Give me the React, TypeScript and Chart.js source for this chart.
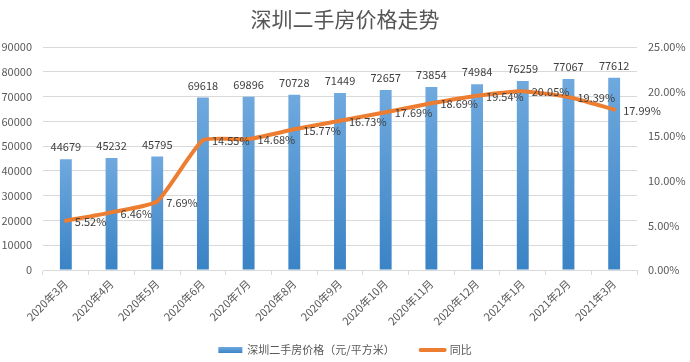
import React, { useEffect, useRef } from "react";
import { Chart, registerables } from "chart.js";

Chart.register(...registerables);

const title = "深圳二手房价格走势";
const categories = [
  "2020年3月", "2020年4月", "2020年5月", "2020年6月", "2020年7月", "2020年8月",
  "2020年9月", "2020年10月", "2020年11月", "2020年12月", "2021年1月", "2021年2月", "2021年3月",
];
const priceLabel = "深圳二手房价格（元/平方米）";
const prices = [44679, 45232, 45795, 69618, 69896, 70728, 71449, 72657, 73854, 74984, 76259, 77067, 77612];
const yoyLabel = "同比";
const yoy = [5.52, 6.46, 7.69, 14.55, 14.68, 15.77, 16.73, 17.69, 18.69, 19.54, 20.05, 19.39, 17.99];
const leftMax = 90000;
const leftStep = 10000;
const rightMax = 25;
const rightStep = 5;

const FONT = '"Noto Sans CJK SC", "Noto Sans", sans-serif';
const TICK_COLOR = "#595959";
const LABEL_COLOR = "#404040";
const BAR_TOP = "#6fa9de";
const BAR_BOTTOM = "#3a83c5";
const LINE_COLOR = "#ed7d31";

const overlayPlugin = {
  id: "overlay",
  afterDatasetsDraw(chart: any) {
    const ctx = chart.ctx;
    ctx.save();
    ctx.font = `11px ${FONT}`;
    ctx.fillStyle = LABEL_COLOR;
    const barMeta = chart.getDatasetMeta(1);
    ctx.textAlign = "center";
    ctx.textBaseline = "middle";
    barMeta.data.forEach((el: any, i: number) => {
      ctx.fillText(String(prices[i]), el.x, el.y - 12);
    });
    const lineMeta = chart.getDatasetMeta(0);
    ctx.textAlign = "left";
    lineMeta.data.forEach((el: any, i: number) => {
      ctx.fillText(yoy[i].toFixed(2) + "%", el.x + 9, el.y + 1);
    });
    ctx.restore();
  },
  afterDraw(chart: any) {
    const ctx = chart.ctx;
    const W = chart.width;
    ctx.save();
    ctx.font = `21px ${FONT}`;
    ctx.fillStyle = "#555555";
    ctx.textAlign = "center";
    ctx.textBaseline = "middle";
    ctx.fillText(title, W / 2, 19);
    ctx.font = `11px ${FONT}`;
    ctx.textAlign = "left";
    const w1 = ctx.measureText(priceLabel).width;
    const w2 = ctx.measureText(yoyLabel).width;
    const total = 24 + 5 + w1 + 24 + 28 + 3 + w2;
    let x = W / 2 - total / 2;
    const y = 350;
    const g = ctx.createLinearGradient(0, y - 3, 0, y + 3);
    g.addColorStop(0, BAR_TOP);
    g.addColorStop(1, BAR_BOTTOM);
    ctx.fillStyle = g;
    ctx.fillRect(x, y - 3, 24, 6);
    x += 24 + 5;
    ctx.fillStyle = TICK_COLOR;
    ctx.fillText(priceLabel, x, y);
    x += w1 + 24;
    ctx.strokeStyle = LINE_COLOR;
    ctx.lineWidth = 4;
    ctx.lineCap = "round";
    ctx.beginPath();
    ctx.moveTo(x + 2, y);
    ctx.lineTo(x + 26, y);
    ctx.stroke();
    x += 28 + 3;
    ctx.fillText(yoyLabel, x, y);
    ctx.restore();
  },
};

export default function App() {
  const canvasRef = useRef<HTMLCanvasElement | null>(null);

  useEffect(() => {
    document.body.style.margin = "0";
    const canvas = canvasRef.current;
    if (!canvas) return;
    const chart = new Chart(canvas, {
      type: "bar",
      data: {
        labels: categories,
        datasets: [
          {
            type: "line",
            label: yoyLabel,
            data: yoy,
            yAxisID: "y1",
            borderColor: LINE_COLOR,
            backgroundColor: LINE_COLOR,
            borderWidth: 4,
            pointRadius: 0,
            tension: 0.15,
            borderCapStyle: "round",
            borderJoinStyle: "round",
            order: 0,
          } as any,
          {
            type: "bar",
            label: priceLabel,
            data: prices,
            yAxisID: "y",
            order: 1,
            barPercentage: 0.26,
            categoryPercentage: 1,
            backgroundColor: (c: any) => {
              const ch = c.chart;
              const area = ch.chartArea;
              if (!area || c.type !== "data") return BAR_BOTTOM;
              const ys = ch.scales.y;
              const top = ys.getPixelForValue(prices[c.dataIndex]);
              const bottom = ys.getPixelForValue(0);
              const g = ch.ctx.createLinearGradient(0, top, 0, bottom);
              g.addColorStop(0, BAR_TOP);
              g.addColorStop(1, BAR_BOTTOM);
              return g;
            },
          } as any,
        ],
      },
      options: {
        responsive: false,
        animation: false,
        layout: { padding: { top: 47, bottom: 28, left: 0, right: 0 } },
        plugins: {
          legend: { display: false },
          title: { display: false },
          tooltip: { enabled: false },
        },
        scales: {
          x: {
            grid: {
              drawOnChartArea: false,
              drawTicks: true,
              tickLength: 5,
              color: "#d9d9d9",
              offset: true,
            },
            border: { color: "#d9d9d9", width: 1 },
            ticks: {
              color: TICK_COLOR,
              font: { size: 11, family: FONT },
              maxRotation: 45,
              minRotation: 45,
              autoSkip: false,
              padding: 2,
            },
            afterFit: (s: any) => {
              s.height = 64;
            },
          },
          y: {
            position: "left",
            min: 0,
            max: leftMax,
            grid: { color: "#d9d9d9", drawTicks: false },
            border: { display: false },
            ticks: {
              stepSize: leftStep,
              color: TICK_COLOR,
              font: { size: 11, family: FONT },
              padding: 11,
              callback: (v: any) => String(v),
            },
            afterFit: (s: any) => {
              s.width = 43;
            },
          },
          y1: {
            position: "right",
            min: 0,
            max: rightMax,
            grid: { drawOnChartArea: false, drawTicks: false },
            border: { display: false },
            ticks: {
              stepSize: rightStep,
              color: TICK_COLOR,
              font: { size: 11, family: FONT },
              padding: 11,
              callback: (v: any) => Number(v).toFixed(2) + "%",
            },
            afterFit: (s: any) => {
              s.width = 53;
            },
          },
        },
      },
      plugins: [overlayPlugin],
    });
    return () => chart.destroy();
  }, []);

  return (
    <div style={{ width: 690, height: 362, background: "#ffffff" }}>
      <canvas ref={canvasRef} width={690} height={362} />
    </div>
  );
}
